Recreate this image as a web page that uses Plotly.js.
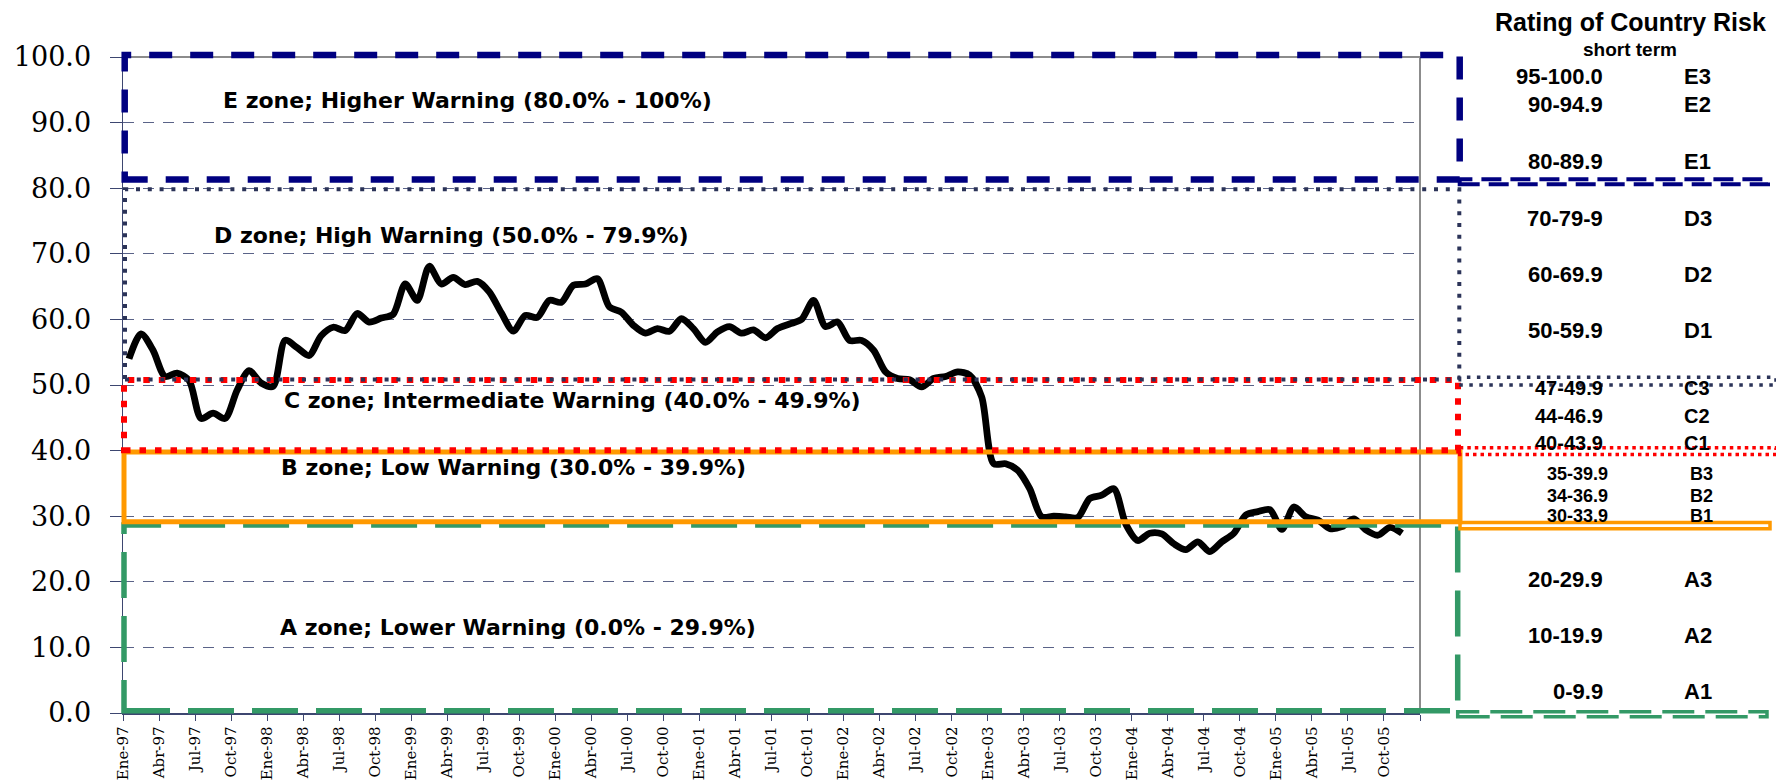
<!DOCTYPE html>
<html><head><meta charset="utf-8">
<script src="https://cdn.plot.ly/plotly-3.0.1.min.js"></script>
<style>html,body{margin:0;padding:0;background:#fff}#chart{width:1776px;height:780px}</style>
</head><body><div id="chart"></div>
<script>
// ---- data ----
const tickLabels = ["Ene-97","Abr-97","Jul-97","Oct-97","Ene-98","Abr-98","Jul-98","Oct-98",
  "Ene-99","Abr-99","Jul-99","Oct-99","Ene-00","Abr-00","Jul-00","Oct-00",
  "Ene-01","Abr-01","Jul-01","Oct-01","Ene-02","Abr-02","Jul-02","Oct-02",
  "Ene-03","Abr-03","Jul-03","Oct-03","Ene-04","Abr-04","Jul-04","Oct-04",
  "Ene-05","Abr-05","Jul-05","Oct-05"];
// monthly country-risk index, Ene-97 .. Nov-05
const riskValues = [
  54.0,57.8,55.3,51.3,51.8,50.7,44.9,45.7,44.9,49.2,52.2,50.3,
  49.8,56.8,55.7,54.5,57.5,58.8,58.3,60.9,59.6,60.2,60.8,65.4,
  62.9,68.1,65.4,66.4,65.3,65.8,64.2,61.0,58.2,60.6,60.3,62.9,
  62.6,65.2,65.4,66.2,61.9,61.1,59.1,57.9,58.6,58.2,60.1,58.6,
  56.5,58.1,58.9,57.9,58.4,57.2,58.6,59.3,60.0,62.9,58.9,59.6,
  56.8,56.8,55.3,52.0,51.0,50.8,49.7,51.0,51.3,52.0,51.5,48.2,
  38.0,38.0,37.0,34.2,29.9,30.0,29.9,29.8,32.7,33.2,34.2,28.8,
  26.3,27.4,27.3,25.8,24.9,26.1,24.6,26.1,27.4,30.2,30.7,31.0,
  28.0,31.4,29.9,29.4,28.1,28.4,29.6,27.9,27.1,28.3,27.4];
const zoneTexts = [
  "E zone; Higher Warning (80.0% - 100%)",
  "D zone; High Warning (50.0% - 79.9%)",
  "C zone; Intermediate Warning (40.0% - 49.9%)",
  "B zone; Low Warning (30.0% - 39.9%)",
  "A zone; Lower Warning (0.0% - 29.9%)"];
const tableTitle = "Rating of Country Risk";
const tableSubtitle = "short term";
const ratingRanges = ["95-100.0","90-94.9","80-89.9","70-79-9","60-69.9","50-59.9",
  "47-49.9","44-46.9","40-43.9","35-39.9","34-36.9","30-33.9","20-29.9","10-19.9","0-9.9"];
const ratingCodes = ["E3","E2","E1","D3","D2","D1","C3","C2","C1","B3","B2","B1","A3","A2","A1"];

// ---- layout helpers (pixel -> paper) ----
const L = 123, R = 1420, T = 57, B = 713;
const px = v => (v - L) / (R - L);
const py = v => (B - v) / (B - T);

// zone text placement (center px)
const zonePos = [[467,101],[451,236],[572,400],[513,468],[518,627]];
// table row placement
const rowPy = [76.7,104.3,161.7,218.3,274,330.7,388.3,416,443.3,474.3,495.7,516,579.3,635,691.7];
const rowSize = [22,22,22,22,22,22,20,20,20,18,18,18,22,22,22];

const xs = riskValues.map((v, i) => i + 0.5);
const tickvals = tickLabels.map((t, k) => 3 * k).concat([3 * tickLabels.length]);
const ticktext = tickLabels.concat([""]);

const trace = {
  x: xs, y: riskValues, type: 'scatter', mode: 'lines',
  line: {color: '#000000', width: 6.8, shape: 'spline', smoothing: 0.8},
  hoverinfo: 'skip', showlegend: false
};

function rect(x0, x1, y0, y1, color, width, dash) {
  return {type: 'rect', xref: 'paper', yref: 'paper', layer: 'above',
    x0: px(x0), x1: px(x1), y0: py(y1), y1: py(y0),
    line: {color: color, width: width, dash: dash}, fillcolor: 'rgba(0,0,0,0)'};
}
function seg(x0, y0, x1, y1, color, width) {
  return {type: 'line', xref: 'paper', yref: 'paper', layer: 'above',
    x0: px(x0), x1: px(x1), y0: py(y0), y1: py(y1), line: {color: color, width: width}};
}

const shapes = [
  seg(L, T, R, T, '#8c8c8c', 2),
  seg(R, T, R, B, '#8c8c8c', 2),
  // A zone
  rect(124, 1457.7, 525, 710.7, '#339966', 5.5, '46px,18px'),
  rect(1457.7, 1767, 711.7, 716.7, '#339966', 3.5, '32px,11px'),
  // B zone
  rect(124, 1460, 452, 521.7, '#ff9900', 5, 'solid'),
  rect(1460, 1770, 522.5, 528.8, '#ff9900', 3.5, 'solid'),
  // C zone
  rect(124, 1458, 380, 450.3, '#ff0000', 6, '6.5px,9px'),
  rect(1458, 1776, 447.7, 454.5, '#ff0000', 3.5, '3.5px,4px'),
  // D zone
  rect(125, 1459.3, 189.3, 379.5, '#2b3358', 4, '4px,7.8px'),
  rect(1459.3, 1776, 377.3, 385, '#2b3358', 3.5, '3.5px,6.5px'),
  // E zone
  rect(124.7, 1459.7, 55, 179.5, '#000080', 6.5, '23px,18px'),
  rect(1459.7, 1768, 179.2, 184.3, '#000080', 4, '20px,9px')
];

const annotations = [];
zoneTexts.forEach((t, i) => annotations.push({
  text: t, xref: 'paper', yref: 'paper', x: px(zonePos[i][0]), y: py(zonePos[i][1]),
  xanchor: 'center', yanchor: 'middle', showarrow: false,
  font: {family: 'DejaVu Sans', size: 22, color: '#000', weight: 'bold'}
}));
annotations.push({text: tableTitle, xref: 'paper', yref: 'paper', x: px(1630), y: py(22),
  xanchor: 'center', yanchor: 'middle', showarrow: false,
  font: {family: 'Liberation Sans, Arial', size: 25, color: '#000', weight: 'bold'}});
annotations.push({text: tableSubtitle, xref: 'paper', yref: 'paper', x: px(1629.5), y: py(49.3),
  xanchor: 'center', yanchor: 'middle', showarrow: false,
  font: {family: 'Liberation Sans, Arial', size: 19, color: '#000', weight: 'bold'}});
ratingRanges.forEach((t, i) => {
  const small = rowSize[i] === 18;
  annotations.push({text: t, xref: 'paper', yref: 'paper', x: px(small ? 1610 : 1605), y: py(rowPy[i]),
    xanchor: 'right', yanchor: 'middle', showarrow: false,
    font: {family: 'Liberation Sans, Arial', size: rowSize[i], color: '#000', weight: 'bold'}});
  annotations.push({text: ratingCodes[i], xref: 'paper', yref: 'paper', x: px(small ? 1688 : 1682), y: py(rowPy[i]),
    xanchor: 'left', yanchor: 'middle', showarrow: false,
    font: {family: 'Liberation Sans, Arial', size: rowSize[i], color: '#000', weight: 'bold'}});
});

const layout = {
  width: 1776, height: 780,
  margin: {l: L, r: 1776 - R, t: T, b: 780 - B, pad: 0},
  paper_bgcolor: '#ffffff', plot_bgcolor: '#ffffff',
  showlegend: false, hovermode: false,
  xaxis: {
    range: [0, 3 * tickLabels.length], tickmode: 'array', tickvals: tickvals, ticktext: ticktext,
    tickangle: -90, ticks: 'outside', ticklen: 6, tickwidth: 1, tickcolor: '#3d4670',
    showline: true, linecolor: '#3d4670', linewidth: 1.5, showgrid: false, zeroline: false,
    tickfont: {family: 'DejaVu Serif', size: 15, color: '#000'}, fixedrange: true
  },
  yaxis: {
    range: [0, 100], tick0: 0, dtick: 10, tickformat: '.1f',
    ticks: 'outside', ticklen: 12, tickwidth: 1, tickcolor: '#3d4670',
    showline: true, linecolor: '#3d4670', linewidth: 1.5,
    showgrid: true, gridcolor: '#5a6388', gridwidth: 1, griddash: '11px,9px', zeroline: false,
    tickfont: {family: 'DejaVu Serif', size: 27, color: '#000'}, ticklabelstandoff: 13, fixedrange: true
  },
  shapes: shapes,
  annotations: annotations
};

Plotly.newPlot('chart', [trace], layout, {displayModeBar: false, staticPlot: true});
</script>
</body></html>
